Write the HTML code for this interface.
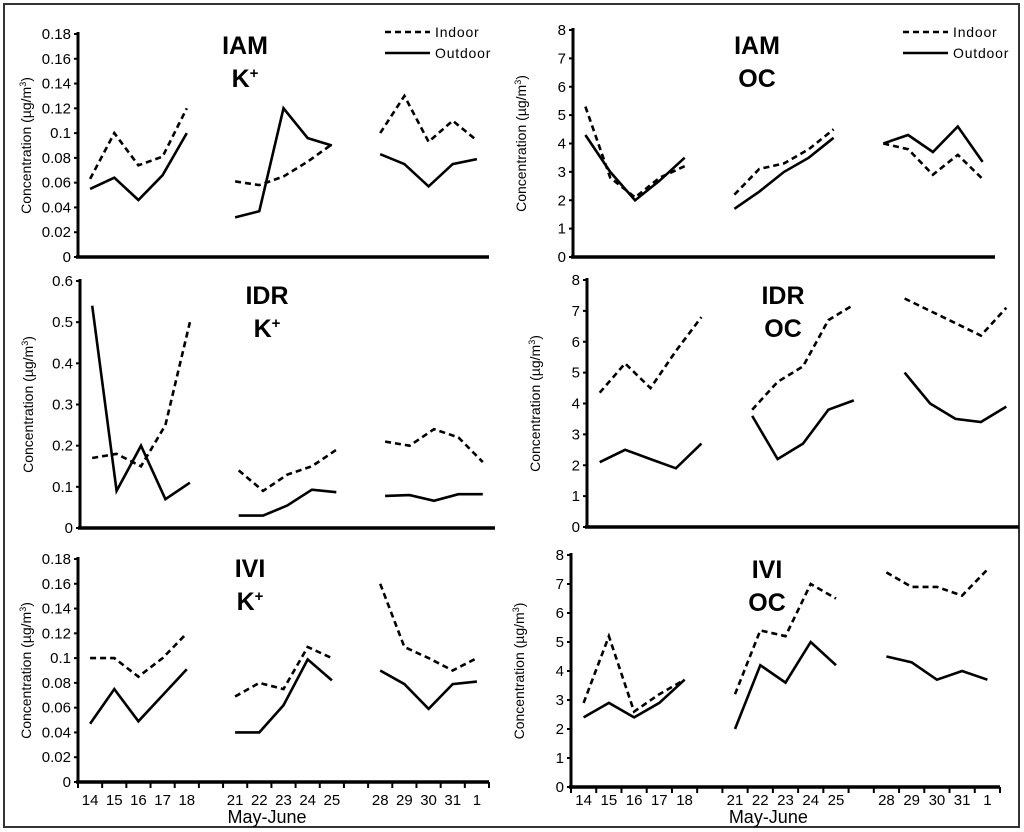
<!DOCTYPE html>
<html><head><meta charset="utf-8"><style>
body{margin:0;background:#fff;}
svg{display:block;font-family:"Liberation Sans",sans-serif;}
</style></head><body>
<svg id="chart" width="1024" height="832" viewBox="0 0 1024 832">
<rect x="4" y="4" width="1015" height="823" fill="#fff" stroke="#333" stroke-width="2"/>
</svg>
<script>
const categories = ["14","15","16","17","18","","","21","22","23","24","25","","","28","29","30","31","1"];
const dateLabels = ["14","15","16","17","18","21","22","23","24","25","28","29","30","31","1"];
const iamKIndoor = [0.063,0.1,0.074,0.081,0.12, 0.061,0.058,0.065,0.077,0.091, 0.1,0.13,0.093,0.11,0.094];
const iamKOutdoor = [0.055,0.064,0.046,0.066,0.1, 0.032,0.037,0.12,0.096,0.09, 0.083,0.075,0.057,0.075,0.079];
const iamOCIndoor = [5.3,2.8,2.1,2.8,3.2, 2.2,3.1,3.3,3.8,4.5, 4.0,3.8,2.9,3.6,2.75];
const iamOCOutdoor = [4.3,3.0,2.0,2.7,3.5, 1.7,2.3,3.0,3.5,4.2, 4.0,4.3,3.7,4.6,3.35];
const idrKIndoor = [0.17,0.18,0.15,0.25,0.5, 0.14,0.09,0.13,0.15,0.19, 0.21,0.2,0.24,0.22,0.16];
const idrKOutdoor = [0.54,0.09,0.2,0.07,0.11, 0.03,0.03,0.055,0.093,0.087, 0.078,0.08,0.066,0.082,0.082];
const idrOCIndoor = [4.35,5.3,4.5,5.7,6.8, 3.8,4.7,5.2,6.7,7.2, 7.4,7.0,6.6,6.2,7.1];
const idrOCOutdoor = [2.1,2.5,2.2,1.9,2.7, 3.6,2.2,2.7,3.8,4.1, 5.0,4.0,3.5,3.4,3.9];
const iviKIndoor = [0.1,0.1,0.085,0.1,0.12, 0.069,0.08,0.075,0.109,0.1, 0.16,0.109,0.1,0.09,0.1];
const iviKOutdoor = [0.047,0.075,0.049,0.07,0.091, 0.04,0.04,0.062,0.099,0.082, 0.09,0.079,0.059,0.079,0.081];
const iviOCIndoor = [2.9,5.2,2.6,3.2,3.7, 3.2,5.4,5.2,7.0,6.5, 7.4,6.9,6.9,6.6,7.5];
const iviOCOutdoor = [2.4,2.9,2.4,2.9,3.7, 2.0,4.2,3.6,5.0,4.2, 4.5,4.3,3.7,4.0,3.7];
const kTicks = ["0","0.02","0.04","0.06","0.08","0.1","0.12","0.14","0.16","0.18"];
const kTicksIdr = ["0","0.1","0.2","0.3","0.4","0.5","0.6"];
const ocTicks = ["0","1","2","3","4","5","6","7","8"];

const svg = document.getElementById('chart');
const NS = "http://www.w3.org/2000/svg";
function mk(tag, attrs, parent){const e=document.createElementNS(NS,tag);for(const k in attrs)e.setAttribute(k,attrs[k]);(parent||svg).appendChild(e);return e;}
const slotIdx=[0,1,2,3,4,6,7,8,9,10,12,13,14,15,16];

function panel(p){
  const g=mk('g',{});
  
  
  const nSlots=17, sw=(p.x1-p.x0)/nSlots;
  const ymax=parseFloat(p.ticks[p.ticks.length-1]);
  const xs=i=>p.x0+(slotIdx[i]+0.5)*sw;
  const ys=v=>p.yb-(v/ymax)*(p.yb-p.yt);
  p.ticks.forEach(t=>{
    const y=ys(parseFloat(t));
    mk('line',{x1:p.x0-4,x2:p.x0,y1:y,y2:y,stroke:'#000','stroke-width':2},g);
    const tx=mk('text',{x:p.x0-7,y:y+5,'text-anchor':'end','font-size':15,fill:'#000'},g);
    tx.textContent=t;
    
    
  });
  const ax=mk('line',{x1:p.x0,x2:p.x0,y1:p.yt-2,y2:p.yb,stroke:'#000','stroke-width':3},g);
  
  
  const bx=mk('line',{x1:p.x0-2,x2:p.x1,y1:p.yb,y2:p.yb,stroke:'#000','stroke-width':3.5},g);
  
  
  if(p.xlabels){
    for(let s=0;s<=nSlots;s++){
      mk('line',{x1:p.x0+s*sw,x2:p.x0+s*sw,y1:p.yb,y2:p.yb+6,stroke:'#000','stroke-width':2},g);
    }
    dateLabels.forEach((d,i)=>{
      const t=mk('text',{x:xs(i),y:805,'text-anchor':'middle','font-size':15,fill:'#000'},g);
      t.textContent=d;
      
      
    });
    const xt=mk('text',{x:p.x0+(p.x1-p.x0)*0.46,y:823,'text-anchor':'middle','font-size':18,fill:'#000'},g);
    xt.textContent='May-June';
    
    
  }
  const yt=mk('text',{x:0,y:0,'text-anchor':'middle','font-size':14,fill:'#000',transform:`translate(${p.x0-47},${(p.yt+p.yb)/2}) rotate(-90)`},g);
  yt.innerHTML='Concentration (µg/m<tspan font-size="9" dy="-5">3</tspan><tspan dy="5">)</tspan>';
  
  
  [[p.indoor,'6,4','indoor-line'],[p.outdoor,null,'outdoor-line']].forEach(([arr,dash,nm])=>{
    for(let seg=0;seg<3;seg++){
      const pts=[];
      for(let i=seg*5;i<seg*5+5;i++)pts.push(xs(i).toFixed(1)+','+ys(arr[i]).toFixed(1));
      const a={points:pts.join(' '),fill:'none',stroke:'#000','stroke-width':2.6,'stroke-linejoin':'miter'};
      if(dash)a['stroke-dasharray']=dash;
      const pl=mk('polyline',a,g);
      
      
    }
  });
  [p.site,p.species].forEach((s,i)=>{
    const t=mk('text',{x:p.tx,y:p.ty+i*33,'text-anchor':'middle','font-size':25,'font-weight':'bold',fill:'#000'},g);
    if(s==='K+'){t.innerHTML='K<tspan font-size="15" dy="-9">+</tspan>';}else t.textContent=s;
    
    
  });
  if(p.legend){
    const [lx,ly]=p.legend;
    [['Indoor','6,4',0],['Outdoor',null,21]].forEach(([lab,dash,dy])=>{
      const a={x1:lx,x2:lx+45,y1:ly+dy,y2:ly+dy,stroke:'#000','stroke-width':2.6};
      if(dash)a['stroke-dasharray']=dash;
      const l=mk('line',a,g);
      
      
      const t=mk('text',{x:lx+50,y:ly+dy+5,'font-size':14,'letter-spacing':'0.8',fill:'#000'},g);
      t.textContent=lab;
      
      
    });
  }
}
panel({name:'panel-iam-k',x0:78,x1:489,yt:34,yb:257,ticks:kTicks,indoor:iamKIndoor,outdoor:iamKOutdoor,site:'IAM',species:'K+',tx:245,ty:54,legend:[385,32]});
panel({name:'panel-iam-oc',x0:573,x1:995,yt:30,yb:257,ticks:ocTicks,indoor:iamOCIndoor,outdoor:iamOCOutdoor,site:'IAM',species:'OC',tx:757,ty:54,legend:[903,32]});
panel({name:'panel-idr-k',x0:80,x1:495,yt:281,yb:528,ticks:kTicksIdr,indoor:idrKIndoor,outdoor:idrKOutdoor,site:'IDR',species:'K+',tx:267,ty:304});
panel({name:'panel-idr-oc',x0:587,x1:1019,yt:280,yb:527,ticks:ocTicks,indoor:idrOCIndoor,outdoor:idrOCOutdoor,site:'IDR',species:'OC',tx:783,ty:304});
panel({name:'panel-ivi-k',x0:78,x1:489,yt:559,yb:782,ticks:kTicks,indoor:iviKIndoor,outdoor:iviKOutdoor,site:'IVI',species:'K+',tx:250,ty:577,xlabels:true});
panel({name:'panel-ivi-oc',x0:571,x1:1000,yt:555,yb:787,ticks:ocTicks,indoor:iviOCIndoor,outdoor:iviOCOutdoor,site:'IVI',species:'OC',tx:767,ty:578,xlabels:true});
</script>
</body></html>
